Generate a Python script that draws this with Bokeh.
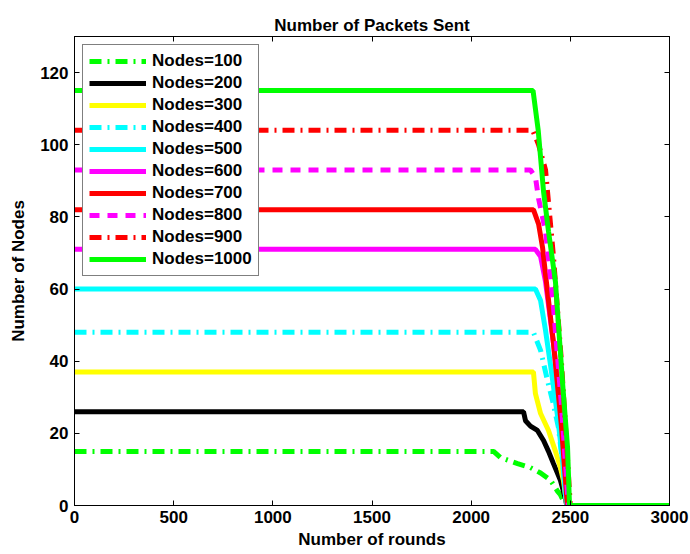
from bokeh.plotting import figure
from bokeh.models import LinearAxis, SingleIntervalTicker, CustomJSTickFormatter, Range1d
from bokeh.embed import file_html
from bokeh.resources import INLINE

# ---- data ----
labels = ["Nodes=100", "Nodes=200", "Nodes=300", "Nodes=400", "Nodes=500",
          "Nodes=600", "Nodes=700", "Nodes=800", "Nodes=900", "Nodes=1000"]

r100 = [0, 2113, 2148, 2234, 2299, 2350, 2400, 2435, 2450, 2475, 3000]
v100 = [15, 15, 13.3, 11.6, 10.5, 9, 7, 4, 3, 0, 0]

r200 = [0, 2264, 2274, 2299, 2334, 2365, 2390, 2415, 2450, 2475, 2482, 3000]
v200 = [26, 26, 23.5, 22, 20.8, 18, 15, 11.6, 7, 2, 0, 0]

r300 = [0, 2314, 2324, 2350, 2390, 2425, 2450, 2465, 2475, 2483, 3000]
v300 = [37, 37, 31, 25.5, 20.8, 15, 10.5, 7, 3, 0, 0]

r400 = [0, 2314, 2350, 2385, 2415, 2440, 2465, 2485, 3000]
v400 = [48, 48, 43, 34.6, 28, 21.6, 10, 0, 0]

r500 = [0, 2324, 2350, 2375, 2400, 2435, 2460, 2475, 2482, 3000]
v500 = [60, 60, 56.8, 48.5, 39, 25, 13, 3, 0, 0]

r600 = [0, 2324, 2350, 2375, 2415, 2455, 2488, 3000]
v600 = [71, 71, 69, 62, 45, 25, 0, 0]

r700 = [0, 2314, 2340, 2360, 2375, 2415, 2455, 2485, 3000]
v700 = [82, 82, 78, 71.5, 64, 45, 22, 0, 0]

r800 = [0, 2299, 2324, 2340, 2375, 2415, 2455, 2490, 3000]
v800 = [93, 93, 91, 85, 76, 55, 28, 0, 0]

r900 = [0, 2310, 2340, 2375, 2415, 2455, 2480, 2500, 3000]
v900 = [104, 104, 100, 93, 69, 40, 18, 0, 0]

r1000 = [0, 2312, 2338, 2365, 2390, 2425, 2460, 2486, 2496, 3000]
v1000 = [115, 115, 104, 87, 76, 62, 34.6, 16, 0, 0]

rounds = [r100, r200, r300, r400, r500, r600, r700, r800, r900, r1000]
values = [v100, v200, v300, v400, v500, v600, v700, v800, v900, v1000]

x_ticks_step = 500
y_ticks_step = 20

# ---- styles ----
colors = ["#00FF00", "#000000", "#FFFF00", "#00FFFF", "#00FFFF",
          "#FF00FF", "#FF0000", "#FF00FF", "#FF0000", "#00FF00"]
dashes = ["12 6 2 6", "solid", "solid", "12 6 2 6", "solid",
          "solid", "solid", "10 8", "12 6 2 6", "solid"]

FONT = "Liberation Sans"

p = figure(width=690, height=554, output_backend="svg", toolbar_location=None,
           x_range=Range1d(0, 3000), y_range=Range1d(0, 130),
           title="Number of Packets Sent",
           min_border_left=74, min_border_right=21, min_border_top=36, min_border_bottom=49)

for r, v, c, d, lab in zip(rounds, values, colors, dashes, labels):
    p.line(r, v, line_color=c, line_width=5, line_dash=d, legend_label=lab)

p.title.align = "center"
p.title.text_font = FONT
p.title.text_font_size = "17px"
p.title.text_font_style = "bold"
p.title.text_color = "black"
p.title.offset = 0
p.title.standoff = 4

p.xgrid.visible = False
p.ygrid.visible = False
p.outline_line_color = "black"
p.outline_line_width = 1
p.background_fill_color = "white"
p.border_fill_color = "white"

for ax in (p.xaxis[0], p.yaxis[0]):
    ax.major_label_text_font = FONT
    ax.major_label_text_font_size = "17px"
    ax.major_label_text_font_style = "bold"
    ax.major_label_text_color = "black"
    ax.axis_label_text_font = FONT
    ax.axis_label_text_font_size = "17px"
    ax.axis_label_text_font_style = "bold"
    ax.axis_label_text_color = "black"
    ax.major_tick_in = 5
    ax.major_tick_out = 0
    ax.minor_tick_in = 0
    ax.minor_tick_out = 0
    ax.axis_line_color = "black"
    ax.major_tick_line_color = "black"

p.xaxis[0].major_label_standoff = 5
p.xaxis[0].axis_label_standoff = 4
p.yaxis[0].major_label_standoff = 6
p.yaxis[0].axis_label_standoff = 9

p.xaxis[0].ticker = SingleIntervalTicker(interval=x_ticks_step)
p.yaxis[0].ticker = SingleIntervalTicker(interval=y_ticks_step)
p.xaxis[0].axis_label = "Number of rounds"
p.yaxis[0].axis_label = "Number of Nodes"

blank = CustomJSTickFormatter(code="return ''")
top = LinearAxis(ticker=SingleIntervalTicker(interval=x_ticks_step), formatter=blank,
                 major_tick_in=5, major_tick_out=0, minor_tick_in=0, minor_tick_out=0,
                 major_label_standoff=0, major_label_text_font_size="1px")
right = LinearAxis(ticker=SingleIntervalTicker(interval=y_ticks_step), formatter=blank,
                   major_tick_in=5, major_tick_out=0, minor_tick_in=0, minor_tick_out=0,
                   major_label_standoff=0, major_label_text_font_size="1px")
p.add_layout(top, "above")
p.add_layout(right, "right")

lg = p.legend[0]
lg.location = "top_left"
lg.margin = 8
lg.padding = 6
lg.spacing = 2
lg.label_height = 20
lg.glyph_height = 20
lg.glyph_width = 57
lg.label_standoff = 6
lg.label_text_font = FONT
lg.label_text_font_size = "17px"
lg.label_text_font_style = "bold"
lg.label_text_color = "black"
lg.border_line_color = "black"
lg.border_line_width = 1
lg.background_fill_alpha = 1

open("out.html", "w").write(file_html(p, INLINE))
